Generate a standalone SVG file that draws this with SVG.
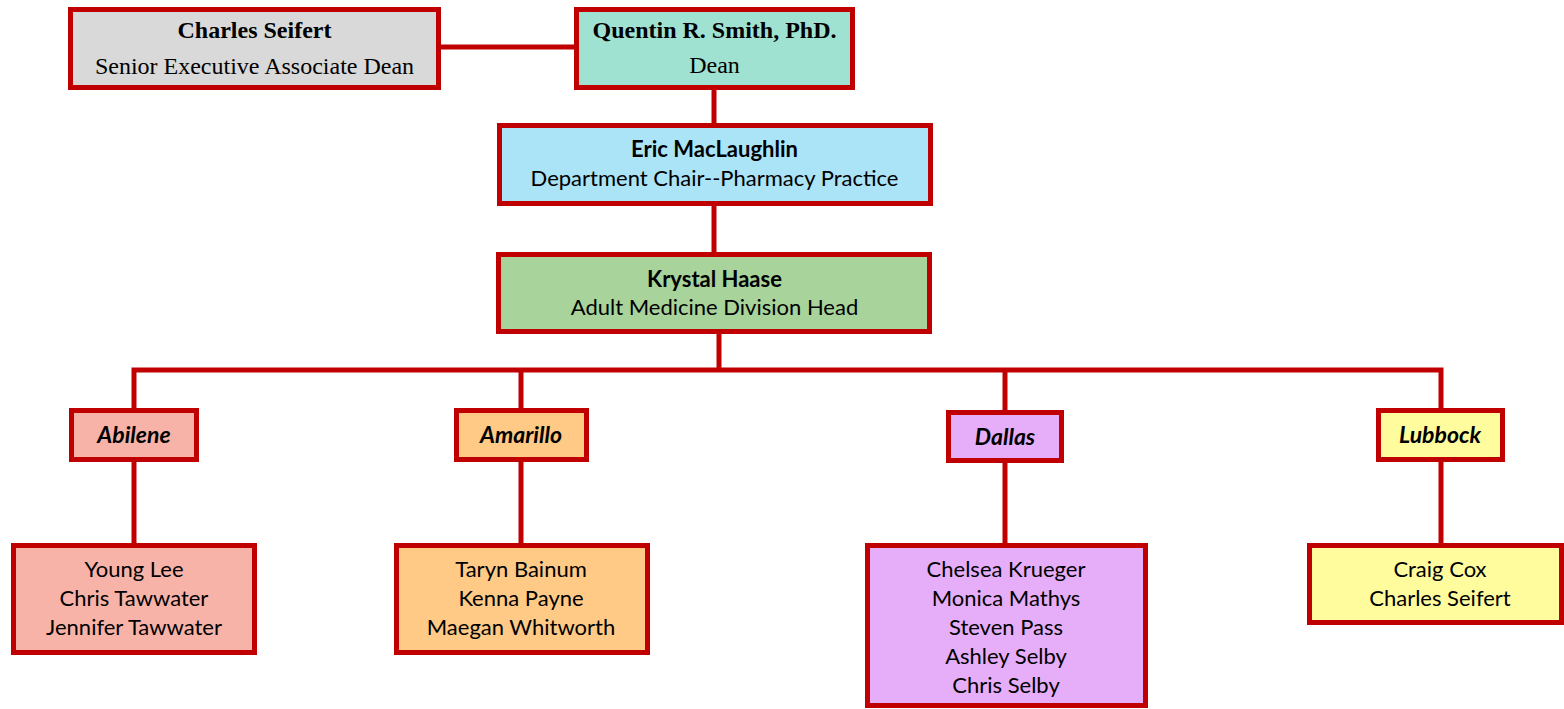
<svg xmlns="http://www.w3.org/2000/svg" width="1564" height="709" viewBox="0 0 1564 709">
<style>
.box{stroke:#C00000;stroke-width:5}
.con{stroke:#C00000;stroke-width:5;fill:none}
.serif{font-family:"Liberation Serif","Times New Roman",serif;font-size:24px;fill:#000;text-anchor:middle}
.sb{font-weight:bold}
.sans{font-family:Lato,"Open Sans",sans-serif;font-size:22px;fill:#000;text-anchor:middle}
.loc{font-weight:bold;font-style:italic;font-size:23px}
</style>
<g id="connectors">
<path class="con" d="M441 47H574"/>
<path class="con" d="M714 90V123"/>
<path class="con" d="M714 205V252"/>
<path class="con" d="M719 333V370"/>
<path class="con" d="M134 408V370H1441V408"/>
<path class="con" d="M521 370V408"/>
<path class="con" d="M1005 370V410"/>
<path class="con" d="M134 462V543"/>
<path class="con" d="M521 462V543"/>
<path class="con" d="M1005 463V543"/>
<path class="con" d="M1441 462V543"/>
</g>
<g id="seifert">
<rect class="box" x="70.5" y="9.5" width="368" height="78" fill="#D9D9D9"/>
<text class="serif sb" x="254.5" y="38">Charles Seifert</text>
<text class="serif" x="254.5" y="74">Senior Executive Associate Dean</text>
</g>
<g id="smith">
<rect class="box" x="576.5" y="9.5" width="276" height="78" fill="#A0E2D1"/>
<text class="serif sb" x="714.5" y="38">Quentin R. Smith, PhD.</text>
<text class="serif" x="714.5" y="73">Dean</text>
</g>
<g id="maclaughlin">
<rect class="box" x="499.5" y="125.5" width="431" height="78" fill="#ABE3F7"/>
<text class="sans sb" x="714.5" y="157">Eric MacLaughlin</text>
<text class="sans" x="714.5" y="186">Department Chair--Pharmacy Practice</text>
</g>
<g id="haase">
<rect class="box" x="498.5" y="254.5" width="431" height="77" fill="#A8D39A"/>
<text class="sans sb" x="714.5" y="287">Krystal Haase</text>
<text class="sans" x="714.5" y="315">Adult Medicine Division Head</text>
</g>
<g id="abilene">
<rect class="box" x="71.5" y="410.5" width="125" height="49" fill="#F8B3A8"/>
<text class="sans loc" x="134" y="443">Abilene</text>
</g>
<g id="amarillo">
<rect class="box" x="456.5" y="410.5" width="130" height="49" fill="#FECA86"/>
<text class="sans loc" x="521" y="443">Amarillo</text>
</g>
<g id="dallas">
<rect class="box" x="948.5" y="412.5" width="113" height="48" fill="#E6AEF9"/>
<text class="sans loc" x="1005" y="445">Dallas</text>
</g>
<g id="lubbock">
<rect class="box" x="1378.5" y="410.5" width="124" height="49" fill="#FFFC9E"/>
<text class="sans loc" x="1440" y="443">Lubbock</text>
</g>
<g id="abilene-staff">
<rect class="box" x="13.5" y="545.5" width="241" height="107" fill="#F8B3A8"/>
<text class="sans" x="134" y="577">Young Lee</text>
<text class="sans" x="134" y="606">Chris Tawwater</text>
<text class="sans" x="134" y="635">Jennifer Tawwater</text>
</g>
<g id="amarillo-staff">
<rect class="box" x="396.5" y="545.5" width="251" height="107" fill="#FECA86"/>
<text class="sans" x="521" y="577">Taryn Bainum</text>
<text class="sans" x="521" y="606">Kenna Payne</text>
<text class="sans" x="521" y="635">Maegan Whitworth</text>
</g>
<g id="dallas-staff">
<rect class="box" x="867.5" y="545.5" width="278" height="160" fill="#E6AEF9"/>
<text class="sans" x="1006" y="577">Chelsea Krueger</text>
<text class="sans" x="1006" y="606">Monica Mathys</text>
<text class="sans" x="1006" y="635">Steven Pass</text>
<text class="sans" x="1006" y="664">Ashley Selby</text>
<text class="sans" x="1006" y="693">Chris Selby</text>
</g>
<g id="lubbock-staff">
<rect class="box" x="1309.5" y="545.5" width="252" height="77" fill="#FFFC9E"/>
<text class="sans" x="1440" y="577">Craig Cox</text>
<text class="sans" x="1440" y="606">Charles Seifert</text>
</g>
</svg>
